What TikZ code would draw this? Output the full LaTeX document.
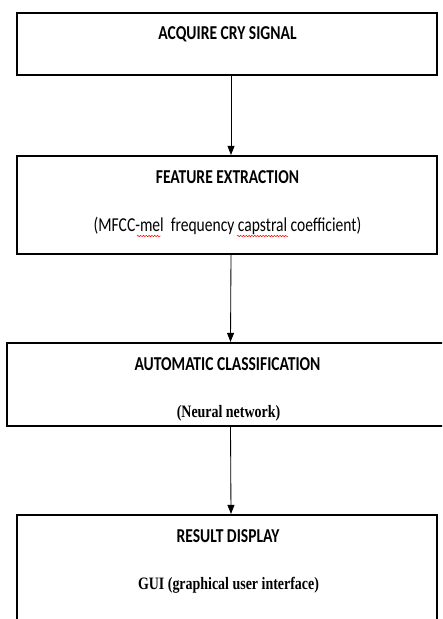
\documentclass[tikz,border=0pt]{standalone}
\usepackage{fontspec}
\usetikzlibrary{arrows.meta,decorations.pathmorphing}
\newfontfamily\headfont[FakeStretch=0.79]{Carlito}
\newfontfamily\noteserif[FakeStretch=0.8]{Liberation Serif}
\begin{document}
\begin{tikzpicture}[x=0.025cm,y=-0.025cm,
    box/.style={draw,line width=1.5pt,inner sep=0pt,minimum width=10.5cm},
    head/.style={font=\fontsize{14}{16}\selectfont\headfont\bfseries},
    note/.style={font=\fontsize{14}{16}\selectfont\headfont},
    serifnote/.style={font=\fontsize{12.4}{15}\selectfont\noteserif\bfseries},
    flow/.style={draw,line width=0.6pt,-{Triangle[length=6.5pt,width=5pt]}},
    spell/.style={draw=red,line width=0.35pt,decorate,
      decoration={snake,amplitude=0.5pt,segment length=2pt}}]

      \useasboundingbox (0,0) rectangle (442,619);
      \clip (0,0) rectangle (442,619);

      \begin{scope}[every node/.style={box}]
        \node (acquire)  at (227,44)    [minimum height=1.55cm]  {};
        \node (feature)  at (227,205)   [minimum height=2.45cm]  {};
        \node (classify) at (226.5,384.5) [minimum width=10.975cm,minimum height=2.075cm] {};
        \node (result)   at (227,572.5) [minimum height=2.875cm] {};
      \end{scope}

      \begin{scope}[every node/.style={anchor=base,inner sep=0pt}]
        \node[head]      (acquiret)  at (227.5,39)  {ACQUIRE CRY SIGNAL};
        \node[head]      (featuret)  at (227.5,183) {FEATURE EXTRACTION};
        \node[note]      (mfcc)      at (227.5,231) {(MFCC-mel\ \ frequency capstral coefficient)};
        \node[head]      (classifyt) at (227.5,370) {AUTOMATIC CLASSIFICATION};
        \node[serifnote] (neural)    at (228.5,417) {(Neural network)};
        \node[head]      (resultt)   at (228,542)   {RESULT DISPLAY};
        \node[serifnote] (gui)       at (228.5,589) {GUI (graphical user interface)};
      \end{scope}

      % spelling marks under mel and capstral
      \path[spell] (137,236) -- (161,236);
      \path[spell] (237,236) -- (288,236);

      \begin{scope}[every edge/.style={flow}]
        \path ([xshift=0.1cm]acquire.south)  edge ([xshift=0.1cm]feature.north);
        \path ([xshift=0.1cm]feature.south)  edge ([xshift=0.1cm]classify.north);
        \path ([xshift=0.1cm]classify.south) edge ([xshift=0.1cm]result.north);
      \end{scope}

    \end{tikzpicture}
\end{document}
